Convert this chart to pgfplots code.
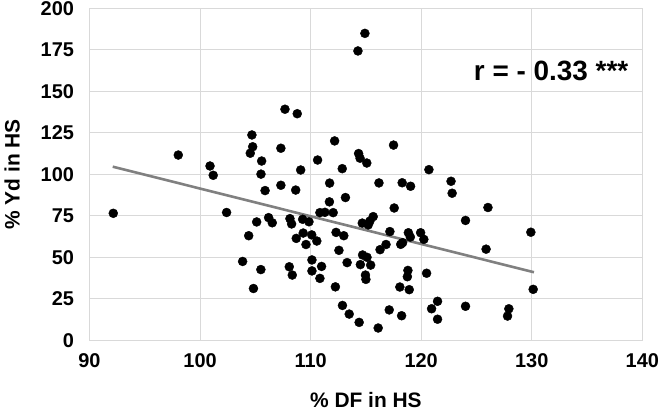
\documentclass[border=0pt]{standalone}
\usepackage{fontspec}
\setmainfont{Liberation Sans}
\usepackage{pgfplots}
\pgfplotsset{compat=1.18}
\definecolor{gridc}{HTML}{D9D9D9}
\definecolor{trendc}{HTML}{808080}
\begin{document}
\begin{tikzpicture}
\path[use as bounding box] (0,0) rectangle (659bp,412bp);
\begin{axis}[
  at={(89.5bp,71.7bp)}, anchor=south west,
  scale only axis, width=552.8bp, height=332bp,
  xmin=90, xmax=140, ymin=0, ymax=200,
  xtick={90,100,...,140}, ytick={0,25,...,200},
  major tick length=0pt,
  grid=major, major grid style={gridc, line width=0.9bp},
  axis line style={gridc, line width=0.9bp},
  /pgf/number format/assume math mode=true,
  tick label style={font=\bfseries\fontsize{20}{20}\selectfont},
  yticklabel style={xshift=-12bp},
  xticklabel style={yshift=-10bp},
  xlabel={\% DF in HS}, ylabel={\% Yd in HS},
  label style={font=\bfseries\fontsize{21}{21}\selectfont},
  xlabel style={at={(axis description cs:0.5,-0.18)}, anchor=center},
  ylabel style={at={(axis description cs:-0.140,0.5)}, anchor=center},
  clip=false,
]
\addplot[trendc, line width=2.6bp] coordinates {(92.1,104.6) (130.2,41.0)};
\addplot[only marks, mark=*, mark size=4.5bp, black] coordinates {
(92.15,76.5) (98.03,111.6) (100.9,105.0) (101.19,99.4) (102.4,77.0)
(103.85,47.5) (104.4,63.0) (104.69,123.7) (104.76,116.6) (104.54,112.7)
(104.83,31.2) (105.12,71.3) (105.5,42.6) (105.57,108.0) (105.51,100.1)
(105.88,90.2) (106.2,73.9) (106.53,70.8) (107.31,115.7) (107.31,93.4)
(107.68,139.2) (108.79,136.5) (108.13,73.3) (108.28,70.1) (108.07,44.3)
(108.34,39.3) (108.65,90.5) (108.7,61.4) (109.1,102.6) (109.28,72.9)
(109.85,71.4) (109.33,64.6) (110.1,63.5) (110.56,59.8) (109.58,57.7)
(110.12,48.4) (110.99,44.5) (110.12,41.8) (110.84,37.3) (110.63,108.6)
(110.84,76.9) (111.29,77.1) (112.04,76.9) (111.72,94.7) (111.7,83.4)
(112.17,120.1) (112.86,103.4) (113.15,86.0) (112.3,65.0) (113.0,63.0)
(112.56,54.2) (112.24,32.2) (113.3,46.8) (112.88,21.0) (113.49,15.8)
(114.39,10.8) (114.34,112.5) (114.47,109.7) (115.08,106.8) (114.91,184.9)
(114.28,174.3) (114.67,70.6) (115.36,71.8) (115.66,74.5) (115.21,69.5)
(114.7,51.4) (115.1,50.0) (114.5,45.6) (115.43,45.3) (114.96,39.3)
(115.0,36.7) (116.11,7.4) (117.11,18.3) (118.23,14.8) (116.18,94.8)
(117.5,117.6) (117.56,79.7) (117.17,65.5) (116.28,54.6) (116.82,57.7)
(118.15,57.8) (118.32,58.8) (118.28,94.9) (119.04,92.8) (118.84,64.8)
(119.02,62.2) (119.95,64.8) (120.24,60.8) (118.8,42.1) (118.75,38.3)
(118.07,32.1) (118.92,30.5) (120.49,40.4) (120.7,102.8) (121.48,23.5)
(120.94,19.0) (121.48,12.7) (122.7,95.8) (122.8,88.6) (124.01,72.2)
(124.01,20.5) (125.87,54.9) (126.04,80.0) (127.93,19.0) (127.81,14.6)
(129.92,65.1) (130.13,30.7)
};
\node[font=\bfseries\fontsize{28}{28}\selectfont, anchor=center] at (axis description cs:0.835,0.811) {r = - 0.33 ***};
\end{axis}
\end{tikzpicture}
\end{document}
